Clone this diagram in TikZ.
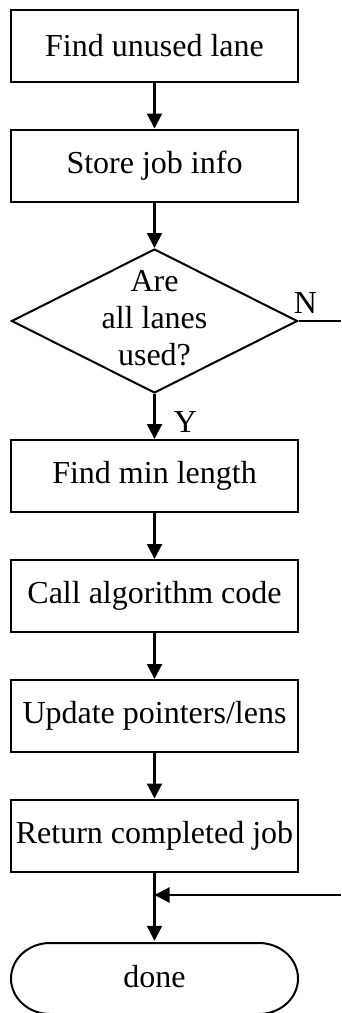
\documentclass[tikz,border=0pt]{standalone}
\usepackage{fontspec}
\setmainfont{Liberation Serif}
\usetikzlibrary{shapes.geometric,arrows.meta}
\begin{document}
\begin{tikzpicture}[x=1pt,y=-1pt,
  every node/.style={font=\fontsize{32}{37}\selectfont},
  procbox/.style={draw,line width=2pt,rectangle,minimum width=287pt,minimum height=72pt,inner sep=0pt},
  decision/.style={draw,line width=2pt,diamond,minimum width=286pt,minimum height=144pt,inner sep=0pt},
  branchlabel/.style={anchor=base,inner sep=0pt},
  flow/.style={line width=2.2pt,-{Triangle[length=15pt,width=15pt]}},
  plain/.style={line width=2.2pt}]
  \useasboundingbox (0,0) rectangle (341,1013);

  \node[procbox] (b1) at (154.5,46) {Find unused lane};
  \node[procbox] (b2) at (154.5,165.5) {Store job info};
  \node[decision] (dec) at (154.5,321) {};
  \node[align=center] (dtext) at (154.5,318) {Are\\all lanes\\used?};
  \node[procbox] (b3) at (154.5,476) {Find min length};
  \node[procbox] (b4) at (154.5,596) {Call algorithm code};
  \node[procbox] (b5) at (154.5,716) {Update pointers/lens};
  \node[procbox] (b6) at (154.5,835.5) {Return completed job};

  % terminal shape, partly cut by the page edge
  \begin{scope}
    \clip (0,0) rectangle (341,1013);
    \draw[line width=2pt] (50,943) -- (259,943)
      arc[start angle=-90,end angle=90,x radius=39pt,y radius=-35.5pt]
      -- (50,1014)
      arc[start angle=90,end angle=270,x radius=39pt,y radius=-35.5pt] -- cycle;
  \end{scope}
  \node[minimum width=287pt,minimum height=71pt] (done) at (154.5,976.5) {done};

  \coordinate (nout) at (341,321);
  \coordinate (rin) at (341,895);
  \coordinate (join) at (b6.south |- rin);

  \draw[flow] (b1.south) -- (b2.north);
  \draw[flow] (b2.south) -- (dec.north);
  \draw[flow] (dec.south) -- (b3.north);
  \node[branchlabel] (ylab) at ([xshift=31pt,yshift=-38.5pt]dec.south) {Y};
  \draw[plain] (dec.east) -- (nout);
  \node[branchlabel] (nlab) at ([xshift=7pt,yshift=8pt]dec.east) {N};
  \draw[flow] (b3.south) -- (b4.north);
  \draw[flow] (b4.south) -- (b5.north);
  \draw[flow] (b5.south) -- (b6.north);
  \draw[flow] (b6.south) -- (done.north);
  \draw[flow] (rin) -- (join);
\end{tikzpicture}
\end{document}
